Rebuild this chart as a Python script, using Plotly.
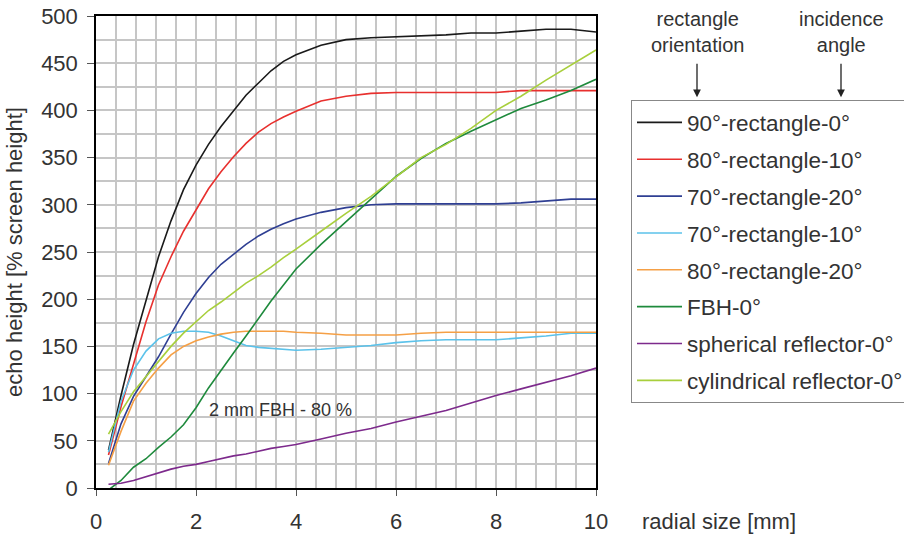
import plotly.graph_objects as go

radial_size = [0.25, 0.5, 0.75, 1.0, 1.25, 1.5, 1.75, 2.0, 2.25, 2.5, 2.75, 3.0, 3.25, 3.5,
               3.75, 4.0, 4.5, 5.0, 5.5, 6.0, 6.5, 7.0, 7.5, 8.0, 8.5, 9.0, 9.5, 10.0]

rect90_0 = [40, 98, 152, 198, 245, 283, 316, 342, 364, 383, 400, 416, 429, 442,
            452, 459, 469, 475, 477, 478, 479, 480, 482, 482, 484, 486, 486, 483]
rect80_10 = [35, 86, 131, 176, 215, 245, 272, 295, 317, 335, 351, 365, 377, 386,
             393, 399, 410, 415, 418, 419, 419, 419, 419, 419, 421, 421, 421, 421]
rect70_20 = [26, 68, 97, 118, 139, 163, 186, 206, 223, 237, 248, 258, 267, 274,
             280, 285, 292, 297, 300, 301, 301, 301, 301, 301, 302, 304, 306, 306]
rect70_10 = [38, 92, 125, 145, 158, 164, 166, 166, 165, 161, 156, 151, 149, 148,
             147, 146, 147, 149, 151, 154, 156, 157, 157, 157, 159, 161, 164, 164]
rect80_20 = [24, 60, 92, 111, 127, 141, 150, 156, 160, 163, 165, 166, 166, 166,
             166, 165, 164, 162, 162, 162, 164, 165, 165, 165, 165, 165, 165, 165]
fbh_0 = [-2, 8, 22, 31, 43, 54, 67, 85, 106, 125, 143, 161, 180, 198,
         215, 232, 258, 282, 307, 330, 349, 365, 378, 390, 402, 411, 421, 433]
spherical_0 = [4, 5, 8, 12, 16, 20, 23, 25, 28, 31, 34, 36, 39, 42,
               44, 46, 52, 58, 63, 70, 76, 82, 90, 98, 105, 112, 119, 127]
cylindrical_0 = [57, 81, 102, 118, 133, 150, 164, 176, 188, 197, 207, 217, 225, 234,
                 244, 253, 272, 291, 309, 330, 350, 364, 381, 400, 415, 432, 448, 464]

series_names = ["90°-rectangle-0°", "80°-rectangle-10°", "70°-rectangle-20°",
                "70°-rectangle-10°", "80°-rectangle-20°", "FBH-0°",
                "spherical reflector-0°", "cylindrical reflector-0°"]
series_values = [rect90_0, rect80_10, rect70_20, rect70_10, rect80_20,
                 fbh_0, spherical_0, cylindrical_0]
series_colors = ["#1a1a1a", "#e8302e", "#2f3f93", "#5bc2ea", "#f5a046",
                 "#1e8a3c", "#7d2a8c", "#a8cf3c"]

x_ticks = [0, 2, 4, 6, 8, 10]
y_ticks = [0, 50, 100, 150, 200, 250, 300, 350, 400, 450, 500]

FONT = "Liberation Sans, Arial, sans-serif"
TXT = "#333333"

fig = go.Figure()
for name, vals, col in zip(series_names, series_values, series_colors):
    fig.add_trace(go.Scatter(x=radial_size, y=vals, mode="lines", name=name,
                             legendgroup=name,
                             line=dict(color=col, width=1.6)))

grid_col = "#c6c6c6"
fig.update_xaxes(range=[0, 10], tickvals=x_ticks, ticks="outside", ticklen=6,
                 tickcolor="#555", ticklabelstandoff=7, automargin=False,
                 showgrid=True, gridcolor=grid_col, gridwidth=1.5,
                 minor=dict(dtick=0.4, showgrid=True, gridcolor=grid_col, gridwidth=1.5),
                 showline=True, linecolor="black", linewidth=1.5, mirror=True,
                 zeroline=False, tickfont=dict(size=22, color=TXT, family=FONT))
fig.update_yaxes(range=[0, 500], tickvals=y_ticks, ticks="outside", ticklen=7,
                 tickcolor="#555", ticklabelstandoff=5, automargin=False,
                 showgrid=True, gridcolor=grid_col, gridwidth=1.5,
                 minor=dict(dtick=25, showgrid=True, gridcolor=grid_col, gridwidth=1.5),
                 showline=True, linecolor="black", linewidth=1.5, mirror=True,
                 zeroline=False, tickfont=dict(size=22, color=TXT, family=FONT),
                 title=dict(text="echo height [% screen height]", standoff=12,
                            font=dict(size=22, color=TXT, family=FONT)))

annotations = [
    dict(x=1.202, y=0.966, xref="paper", yref="paper", text="rectangle<br>orientation",
         showarrow=False, font=dict(size=20, color=TXT, family=FONT), xanchor="center", yanchor="middle"),
    dict(x=1.49, y=0.966, xref="paper", yref="paper", text="incidence<br>angle",
         showarrow=False, font=dict(size=20, color=TXT, family=FONT), xanchor="center", yanchor="middle"),
    dict(x=1.202, y=0.828, xref="paper", yref="paper", text="", showarrow=True,
         ax=0, ay=-35, arrowhead=2, arrowsize=1.2, arrowwidth=1.3, arrowcolor="#222"),
    dict(x=1.49, y=0.828, xref="paper", yref="paper", text="", showarrow=True,
         ax=0, ay=-35, arrowhead=2, arrowsize=1.2, arrowwidth=1.3, arrowcolor="#222"),
    dict(x=3.69, y=83, xref="x", yref="y", text="2 mm FBH - 80 %", showarrow=False,
         font=dict(size=18, color=TXT, family=FONT), xanchor="center", yanchor="middle"),
    dict(x=1.088, y=-0.072, xref="paper", yref="paper", text="radial size [mm]", showarrow=False,
         font=dict(size=22, color=TXT, family=FONT), xanchor="left", yanchor="middle"),
]

fig.update_layout(
    width=904, height=536,
    margin=dict(l=96, r=308, t=16, b=48, autoexpand=False),
    plot_bgcolor="white", paper_bgcolor="white",
    font=dict(family=FONT, color=TXT),
    showlegend=True,
    legend=dict(x=1.07, y=0.8215, xanchor="left", yanchor="top",
                bordercolor="#888", borderwidth=1, bgcolor="white",
                tracegroupgap=4.6, itemwidth=45,
                font=dict(size=22.5, color=TXT, family=FONT)),
    annotations=annotations,
)

# remove the default 8px body margin so the figure fills the window exactly
fig.write_html("out.html", config={"displayModeBar": False},
               post_script="document.body.style.margin='0px';document.body.style.overflow='hidden';")
